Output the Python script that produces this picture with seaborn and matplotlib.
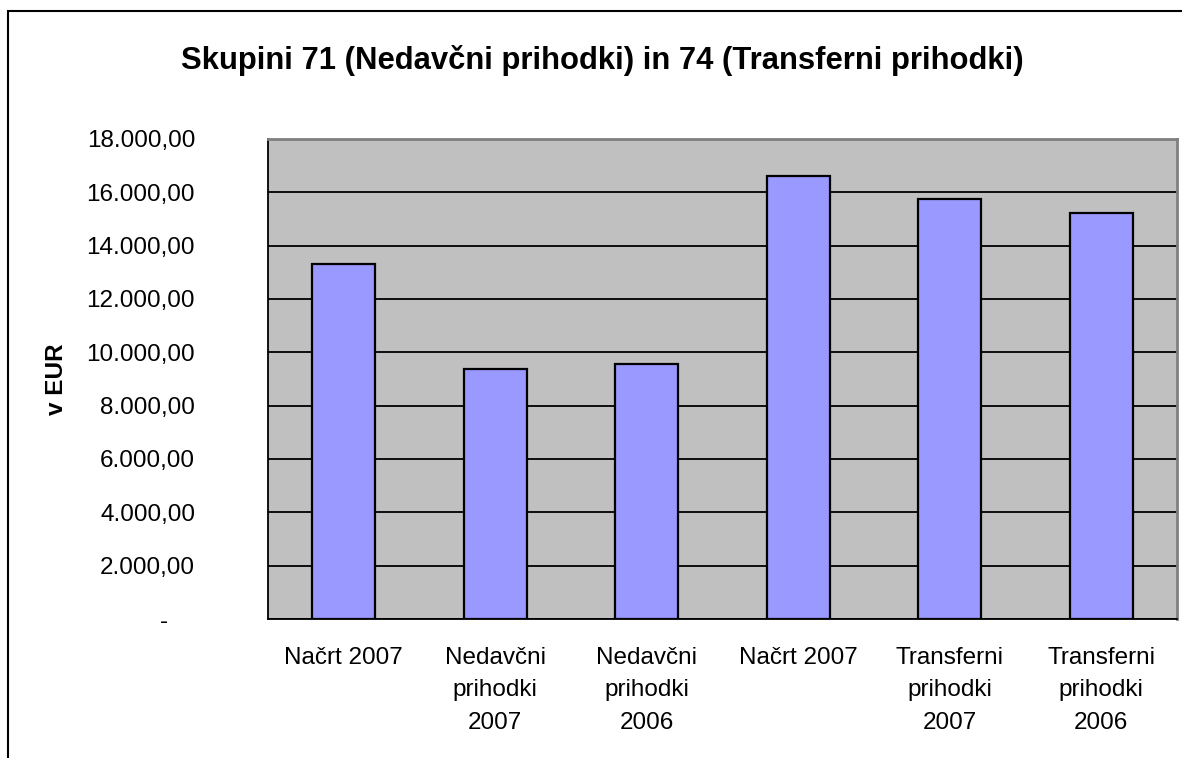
import matplotlib
matplotlib.use("Agg")
import matplotlib.pyplot as plt
import seaborn as sns
import numpy as np
import pandas as pd
from matplotlib.patches import Rectangle
from matplotlib.ticker import FuncFormatter, FixedLocator

# ---- data ----
categories = ["Načrt 2007", "Nedavčni\nprihodki\n2007", "Nedavčni\nprihodki\n2006",
              "Načrt 2007", "Transferni\nprihodki\n2007", "Transferni\nprihodki\n2006"]
values = [13310, 9375, 9575, 16610, 15740, 15225]
title = "Skupini 71 (Nedavčni prihodki) in 74 (Transferni prihodki)"
ylabel = "v EUR"
yticks = [0, 2000, 4000, 6000, 8000, 10000, 12000, 14000, 16000, 18000]

sns.set_theme(style="white")
plt.rcParams['font.family'] = ['Liberation Sans', 'DejaVu Sans']
plt.rcParams['text.color'] = 'black'
plt.rcParams['axes.labelcolor'] = 'black'
plt.rcParams['xtick.color'] = 'black'
plt.rcParams['ytick.color'] = 'black'

fig = plt.figure(figsize=(11.82, 7.58), dpi=100)
ax = fig.add_axes([268/1182, 1-619/758, (1177-268)/1182, (619-139)/758])

df = pd.DataFrame({"key": list(range(len(values))), "value": values})
sns.barplot(data=df, x="key", y="value", ax=ax, color="#9999FF", saturation=1,
            width=0.416, edgecolor="black", linewidth=1.6, zorder=3)

ax.set_facecolor("#C0C0C0")
ax.set_xlim(-0.5, len(values) - 0.5)
ax.set_ylim(0, 18000)
ax.yaxis.set_major_locator(FixedLocator(yticks))
ax.grid(axis="y", color="black", linewidth=1.3, zorder=1)
ax.set_axisbelow(True)

def fmt(v, pos):
    if abs(v) < 1e-9:
        return "-    "
    s = f"{v:,.2f}"
    return s.replace(",", "X").replace(".", ",").replace("X", ".")
ax.yaxis.set_major_formatter(FuncFormatter(fmt))

ax.set_xticks(range(len(values)))
ax.set_xticklabels(categories, fontsize=17.5, linespacing=1.62, color="black")
ax.set_xticks(np.arange(-0.5, len(values), 1.0), minor=True)
ax.tick_params(axis="x", which="major", length=0, pad=20)
ax.tick_params(axis="x", which="minor", length=4, width=1.2, color="black", direction="out")
ax.tick_params(axis="y", which="major", length=4, width=1.2, color="black", direction="out",
               pad=48.5, labelsize=17.5, labelcolor="black")
for lbl in ax.get_yticklabels():
    lbl.set_horizontalalignment("right")

ax.set_xlabel("")
ax.set_ylabel(ylabel, fontsize=17.5, fontweight="bold", labelpad=0, color="black")
ax.yaxis.set_label_coords((68-268)/(1177-268), 0.5)

for side in ["left", "bottom"]:
    ax.spines[side].set_color("black")
    ax.spines[side].set_linewidth(1.3)
for side in ["top", "right"]:
    ax.spines[side].set_color("#808080")
    ax.spines[side].set_linewidth(2)

fig.text(602/1182, 1-60/758, title, fontsize=22.3, fontweight="bold",
         ha="center", va="center", color="black")

fig.patches.append(Rectangle((8/1182, -0.1), 1.2, 1-11/758+0.1, transform=fig.transFigure,
                             fill=False, edgecolor="black", linewidth=1.5))

fig.savefig("out.png", dpi=100)
